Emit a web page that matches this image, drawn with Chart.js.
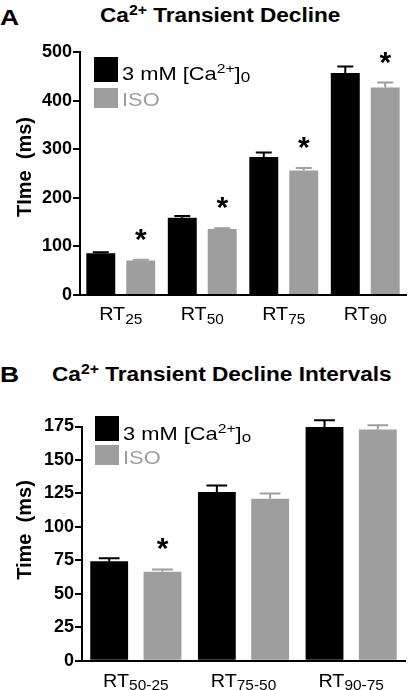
<!DOCTYPE html>
<html>
<head>
<meta charset="utf-8">
<script src="https://cdn.jsdelivr.net/npm/chart.js@4.4.1/dist/chart.umd.min.js"></script>
<style>
  body { margin: 0; background: #fff; }
  #wrap { position: relative; width: 410px; height: 690px; overflow: hidden; font-family: "Liberation Sans", Arial, sans-serif; }
  canvas { position: absolute; left: 0; }
  .letter { position: absolute; left: 0; font-weight: bold; font-size: 22px; line-height: 22px; transform: scaleX(1.2); transform-origin: left; }
  .title { position: absolute; font-weight: bold; font-size: 20px; line-height: 20px; white-space: nowrap; transform: scaleX(1.13); transform-origin: left; }
  .title sup { font-size: 14px; vertical-align: 7px; line-height: 0; }
</style>
</head>
<body>
<div id="wrap">
  <div class="letter" style="top:7px">A</div>
  <div class="title" style="left:100px;top:5px">Ca<sup>2+</sup> Transient Decline</div>
  <div class="letter" style="top:364px">B</div>
  <div class="title" style="left:52px;top:364px">Ca<sup>2+</sup> Transient Decline Intervals</div>
  <canvas id="chartA" width="410" height="340" style="top:0"></canvas>
  <canvas id="chartB" width="410" height="350" style="top:340px"></canvas>
</div>
<script>
// panel A: whole decline
const labelsA = ["RT_{25}", "RT_{50}", "RT_{75}", "RT_{90}"];
const ctrlA = [86, 159, 284, 457];
const ctrlErrA = [2, 3.5, 9, 13];
const isoA = [71, 136, 256, 427];
const isoErrA = [1.5, 1.5, 5.5, 10];
const sigA = [true, true, true, true];

// panel B: intervals
const labelsB = ["RT_{50-25}", "RT_{75-50}", "RT_{90-75}"];
const ctrlB = [74.4, 126, 174.6];
const ctrlErrB = [2.2, 5, 5];
const isoB = [66.4, 121, 172.7];
const isoErrB = [1.8, 4, 3.2];
const sigB = [true, false, false];

const legendA = ["3 mM [Ca^{2+}]_{0}", "ISO"];
const legendB = ["3 mM [Ca^{2+}]_{o}", "ISO"];

const BLACK = "#000000";
const GREY = "#9e9e9e";
const FONT = "'Liberation Sans', Arial, sans-serif";

// draws text with ^{..} and _{..} parts, sx stretches it sideways
function richText(ctx, s, x, y, size, weight, align, subDy, sx) {
  const parts = s.split(/(\^\{[^}]*\}|_\{[^}]*\})/).filter(p => p);
  const segs = parts.map(p => {
    if (p[0] == "^") return { t: p.slice(2, -1), f: size * 0.72, dy: -size * 0.38 };
    if (p[0] == "_") return { t: p.slice(2, -1), f: size * 0.78, dy: size * subDy };
    return { t: p, f: size, dy: 0 };
  });
  let w = 0;
  segs.forEach(g => {
    ctx.font = weight + " " + g.f + "px " + FONT;
    g.w = ctx.measureText(g.t).width;
    w += g.w;
  });
  ctx.save();
  ctx.translate(x, y);
  ctx.scale(sx, 1);
  let cx = align == "center" ? -w / 2 : 0;
  ctx.textAlign = "left";
  ctx.textBaseline = "alphabetic";
  segs.forEach(g => {
    ctx.font = weight + " " + g.f + "px " + FONT;
    ctx.fillText(g.t, cx, g.dy);
    cx += g.w;
  });
  ctx.restore();
}

const decor = {
  id: "decor",
  afterDatasetsDraw(chart, args, o) {
    const ctx = chart.ctx;
    const ys = chart.scales.y;
    const xs = chart.scales.x;
    ctx.save();
    // error bars
    chart.data.datasets.forEach((ds, di) => {
      const meta = chart.getDatasetMeta(di);
      meta.data.forEach((bar, i) => {
        const top = ys.getPixelForValue(ds.data[i] + o.err[di][i]);
        const cap = bar.width * o.cap;
        ctx.strokeStyle = ds.backgroundColor;
        ctx.lineWidth = 2;
        ctx.beginPath();
        ctx.moveTo(bar.x, bar.y);
        ctx.lineTo(bar.x, top);
        ctx.moveTo(bar.x - cap / 2, top);
        ctx.lineTo(bar.x + cap / 2, top);
        ctx.stroke();
        // significance star over ISO bars
        if (di == 1 && o.sig[i]) {
          ctx.fillStyle = "#000";
          ctx.font = "bold 30px " + FONT;
          ctx.textAlign = "center";
          ctx.textBaseline = "alphabetic";
          const m = ctx.measureText("*");
          ctx.fillText("*", bar.x, top - 3 + m.actualBoundingBoxDescent);
        }
      });
    });
    // category labels with subscripts
    ctx.fillStyle = "#000";
    chart.data.labels.forEach((l, i) => {
      richText(ctx, l, xs.getPixelForValue(i), o.labelY, 18, "normal", "center", 0.2, 1.1);
    });
    // y axis title
    ctx.save();
    ctx.translate(o.yTitle.x, o.yTitle.y);
    ctx.rotate(-Math.PI / 2);
    ctx.font = "bold 20px " + FONT;
    ctx.textAlign = "center";
    ctx.textBaseline = "middle";
    ctx.fillText(o.yTitle.text, 0, 0);
    ctx.restore();
    // legend
    const lg = o.legend;
    chart.data.datasets.forEach((ds, di) => {
      const y0 = lg.y + di * lg.gap;
      ctx.fillStyle = ds.backgroundColor;
      ctx.fillRect(lg.x, y0, 24, di == 0 ? 25 : 20);
      richText(ctx, o.legendText[di], lg.x + 28, y0 + lg.base[di], 19, "normal", "left", 0.1, 1.15);
    });
    ctx.restore();
  }
};

function makeChart(id, labels, ctrl, iso, opt) {
  return new Chart(document.getElementById(id), {
    type: "bar",
    data: {
      labels: labels,
      datasets: [
        { label: "3 mM", data: ctrl, backgroundColor: BLACK },
        { label: "ISO", data: iso, backgroundColor: GREY }
      ]
    },
    options: {
      responsive: false,
      animation: false,
      layout: { padding: opt.pad },
      categoryPercentage: opt.cat,
      barPercentage: opt.bar,
      plugins: { legend: { display: false }, tooltip: { enabled: false }, decor: opt.decor },
      scales: {
        x: {
          grid: { display: false },
          border: { display: true, color: "#000", width: 2 },
          ticks: { display: false },
          afterFit(s) { s.height = opt.xh; }
        },
        y: {
          min: 0,
          max: opt.max,
          ticks: { stepSize: opt.step, color: "#000", padding: 1, font: { family: FONT, size: 18, weight: "bold" } },
          grid: { drawOnChartArea: false, tickLength: 7, color: "#000", lineWidth: 2 },
          border: { display: true, color: "#000", width: 2 },
          afterFit(s) { s.width = opt.yw; }
        }
      }
    },
    plugins: [decor]
  });
}

makeChart("chartA", labelsA, ctrlA, isoA, {
  pad: { top: 52, right: 4, left: 0, bottom: 0 },
  cat: 0.98, bar: 0.725, max: 500, step: 100, xh: 45, yw: 80,
  decor: {
    err: [ctrlErrA, isoErrA], sig: sigA, cap: 0.55, labelY: 320,
    yTitle: { text: "TIme  (ms)", x: 25, y: 167 },
    legend: { x: 94, y: 57, gap: 31, base: [23, 18] }, legendText: legendA
  }
});

makeChart("chartB", labelsB, ctrlB, isoB, {
  pad: { top: 86.5, right: 5, left: 0, bottom: 0 },
  cat: 0.99, bar: 0.71, max: 175, step: 25, xh: 29.3, yw: 82,
  decor: {
    err: [ctrlErrB, isoErrB], sig: sigB, cap: 0.55, labelY: 346.5,
    yTitle: { text: "Time  (ms)", x: 25, y: 190 },
    legend: { x: 95, y: 76, gap: 29, base: [24, 19] }, legendText: legendB
  }
});
</script>
</body>
</html>
